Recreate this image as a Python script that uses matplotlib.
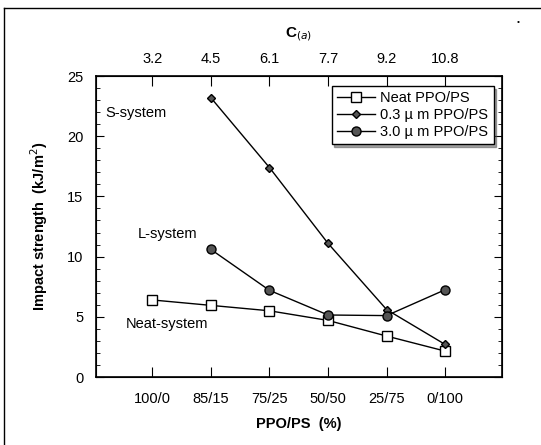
import numpy as np
import matplotlib.pyplot as plt
from matplotlib.ticker import MultipleLocator

plt.rcParams['font.family'] = ['Liberation Sans', 'DejaVu Sans']

# data
ratios = ['100/0', '85/15', '75/25', '50/50', '25/75', '0/100']
c_vals = ['3.2', '4.5', '6.1', '7.7', '9.2', '10.8']
neat = [6.4, 5.95, 5.5, 4.7, 3.4, 2.15]
small_x = [1, 2, 3, 4, 5]
small = [23.2, 17.4, 11.1, 5.6, 2.7]
large_x = [1, 2, 3, 4, 5]
large = [10.6, 7.2, 5.15, 5.1, 7.25]

x = np.arange(len(ratios))

fig = plt.figure(figsize=(5.41, 4.45), dpi=100)
ax = fig.add_axes([0.1774, 0.1528, 0.7506, 0.6764])

ax.plot(x, neat, color='k', lw=1, marker='s', ms=7, mfc='white', mec='k', mew=1, label='Neat PPO/PS')
ax.plot(small_x, small, color='k', lw=1, marker='D', ms=4.5, mfc='#555555', mec='k', mew=1, label='0.3 \u00b5 m PPO/PS')
ax.plot(large_x, large, color='k', lw=1, marker='o', ms=6.5, mfc='#555555', mec='k', mew=1, label='3.0 \u00b5 m PPO/PS')

ax.set_xlim(-0.96, 5.97)
ax.set_ylim(0, 25)
ax.set_xticks(x)
ax.set_xticklabels(ratios, fontsize=10.5)
ax.yaxis.set_major_locator(MultipleLocator(5))
ax.yaxis.set_minor_locator(MultipleLocator(1))
ax.tick_params(axis='y', which='both', direction='in', right=True, labelsize=10.5, pad=9)
ax.tick_params(axis='y', which='major', length=6)
ax.tick_params(axis='y', which='minor', length=3)
ax.tick_params(axis='x', direction='in', length=7, pad=11)
for s in ax.spines.values():
    s.set_linewidth(1.2)

ax.set_xlabel('PPO/PS  (%)', fontsize=10.5, fontweight='bold', labelpad=8)
ax.set_ylabel('Impact strength  (kJ/m$^2$)', fontsize=10.5, fontweight='bold', labelpad=12)

ax2 = ax.twiny()
ax2.set_xlim(ax.get_xlim())
ax2.set_xticks(x)
ax2.set_xticklabels(c_vals, fontsize=10.5)
ax2.tick_params(axis='x', direction='in', length=7, pad=7)
ax2.set_xlabel('C$_{(a)}$', fontsize=11, fontweight='bold', labelpad=11)

ax.text(-0.8, 21.9, 'S-system', fontsize=10.5, va='center')
ax.text(-0.24, 11.9, 'L-system', fontsize=10.5, va='center')
ax.text(-0.46, 4.4, 'Neat-system', fontsize=10.5, va='center')

leg = ax.legend(loc='upper right', fontsize=10.5, frameon=True, fancybox=False,
                shadow=True, handlelength=2.6, borderpad=0.35, labelspacing=0.2,
                handletextpad=0.4, bbox_to_anchor=(0.997, 0.99))
leg.get_frame().set_edgecolor('k')
leg.get_frame().set_linewidth(1)

# scanned page frame
fig.add_artist(plt.Line2D([0.007, 0.007], [0.0, 0.982], color='k', lw=1))
fig.add_artist(plt.Line2D([0.007, 1.0], [0.982, 0.982], color='k', lw=1))
fig.text(0.955, 0.947, '\u2022', fontsize=6)

fig.savefig('out.png', dpi=100)
